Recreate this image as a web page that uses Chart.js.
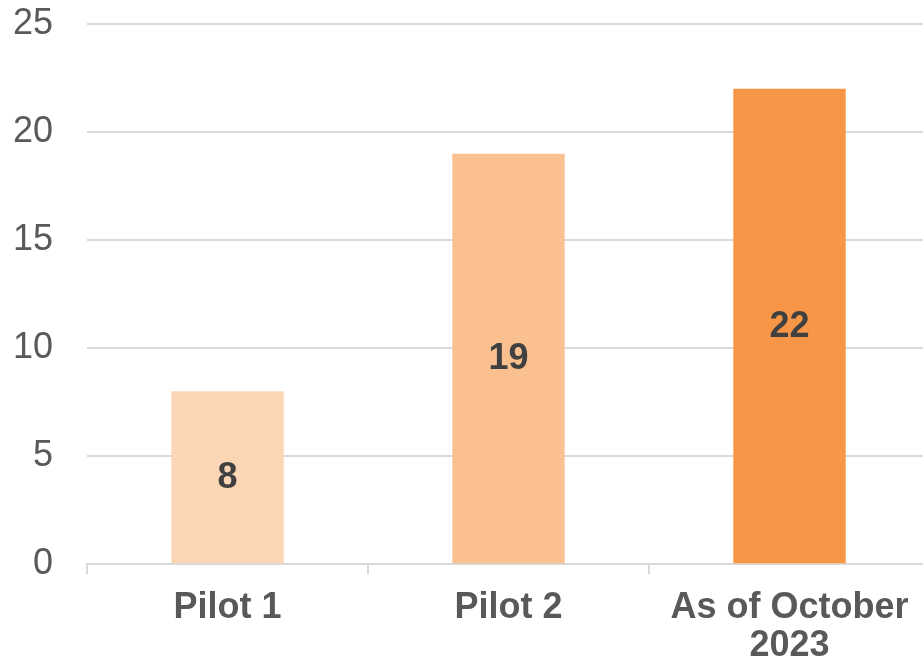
<!DOCTYPE html>
<html>
<head>
<meta charset="utf-8">
<script src="https://cdn.jsdelivr.net/npm/chart.js@4"></script>
<style>
  body { margin: 0; background: #fff; overflow: hidden; }
  #wrap { width: 923px; height: 664px; overflow: hidden; position: relative; }
  #myChart { position: absolute; left: 0; top: -28px; }
</style>
</head>
<body>
<div id="wrap"><canvas id="myChart" width="930" height="698"></canvas></div>
<script>
const categories = ['Pilot 1', 'Pilot 2', ['As of October', '2023']];
const counts = [8, 19, 22];
const barColors = ['#FCD5B4', '#FAC090', '#F79646'];
const yTicks = [0, 5, 10, 15, 20, 25];

// draw the value in the middle of each bar
const barLabels = {
    id: 'barLabels',
    afterDatasetsDraw(chart) {
        const ctx = chart.ctx;
        ctx.save();
        ctx.font = 'bold 36px "Liberation Sans", Arial, sans-serif';
        ctx.fillStyle = '#404040';
        ctx.textAlign = 'center';
        ctx.textBaseline = 'middle';
        chart.getDatasetMeta(0).data.forEach((bar, i) => {
            ctx.fillText(counts[i], bar.x, (bar.y + bar.base) / 2 + 1);
        });
        ctx.restore();
    }
};

const ctx = document.getElementById('myChart').getContext('2d');
new Chart(ctx, {
    type: 'bar',
    data: {
        labels: categories,
        datasets: [{
            data: counts,
            backgroundColor: barColors,
            barPercentage: 0.8,
            categoryPercentage: 0.5
        }]
    },
    options: {
        responsive: false,
        animation: false,
        layout: { padding: { top: 0, right: 0, bottom: -10, left: 0 } },
        plugins: {
            legend: { display: false },
            tooltip: { enabled: false }
        },
        scales: {
            x: {
                offset: true,
                grid: {
                    offset: true,
                    drawOnChartArea: false,
                    tickLength: 10,
                    color: '#d9d9d9',
                    lineWidth: 2
                },
                border: { color: '#d9d9d9', width: 2 },
                ticks: {
                    color: '#595959',
                    maxRotation: 0,
                    padding: 14,
                    font: { family: '"Liberation Sans", Arial, sans-serif', size: 36, weight: 'bold', lineHeight: 1.08 }
                }
            },
            y: {
                min: yTicks[0],
                max: yTicks[yTicks.length - 1],
                afterFit(scale) { scale.width = 87; },
                afterBuildTicks(scale) { scale.ticks = yTicks.map(v => ({ value: v })); },
                grid: { color: '#d9d9d9', lineWidth: 2, drawTicks: false },
                border: { display: false },
                ticks: {
                    color: '#595959',
                    padding: 34,
                    font: { family: '"Liberation Sans", Arial, sans-serif', size: 36, lineHeight: 1 }
                }
            }
        }
    },
    plugins: [barLabels]
});
</script>
</body>
</html>
